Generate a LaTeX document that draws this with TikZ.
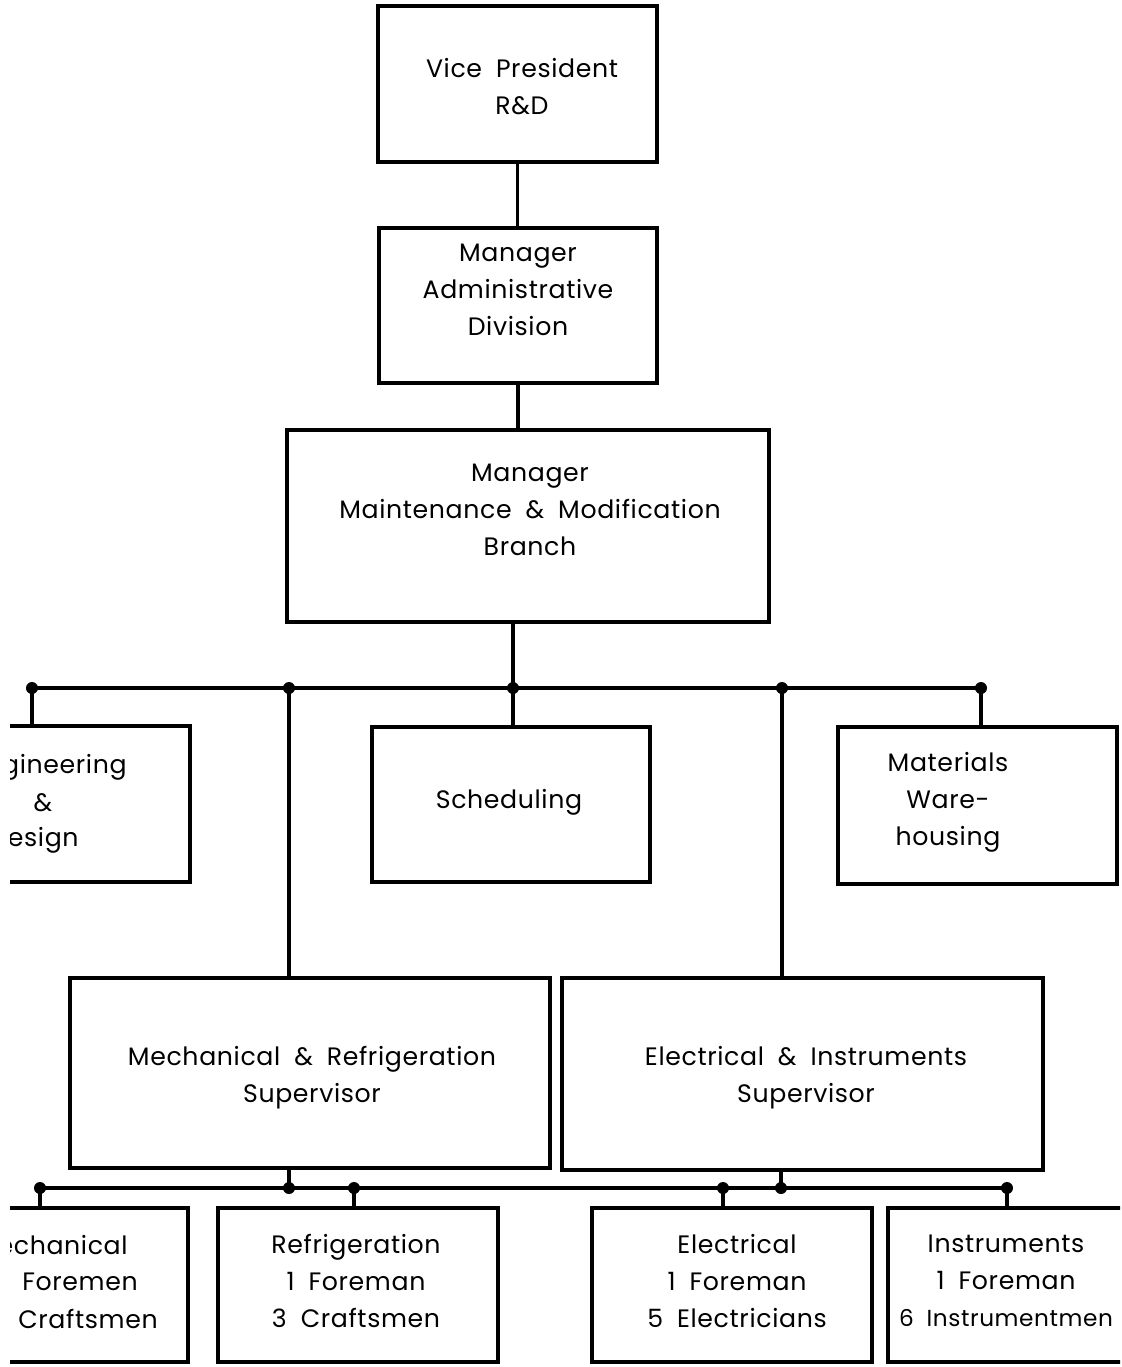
\documentclass[tikz,border=0pt]{standalone}
\usepackage{fontspec}
\setmainfont{Poppins}[WordSpace=1.9,LetterSpace=2.5]
\begin{document}
\begin{tikzpicture}[x=0.5pt,y=-0.5pt,
  box/.style={draw, line width=2.1pt, inner sep=0pt},
  conn/.style={line width=1.7pt},
  txt/.style={align=center, font=\fontsize{12.6}{18.5}\selectfont, inner sep=0pt},
  jdot/.style={circle, fill, inner sep=0pt, minimum size=6pt}]
\useasboundingbox (0,0) rectangle (1122,1367);
\begin{scope}
\clip (10,0) rectangle (1120,1367);
% boxes
\node[box, minimum width=139.5pt, minimum height=78pt] (vp) at (517.5,84) {};
\node[box, minimum width=139pt, minimum height=77.5pt] (adm) at (518,305.5) {};
\node[box, minimum width=241pt, minimum height=96pt] (mm) at (528,526) {};
\node[box, minimum width=146pt, minimum height=78pt] (eng) at (44,804) {};
\node[box, minimum width=139pt, minimum height=77.5pt] (sched) at (511,804.5) {};
\node[box, minimum width=139.5pt, minimum height=78.5pt] (mat) at (977.5,805.5) {};
\node[box, minimum width=240pt, minimum height=95pt] (msup) at (310,1073) {};
\node[box, minimum width=240.5pt, minimum height=96pt] (esup) at (802.5,1074) {};
\node[box, minimum width=124pt, minimum height=77pt] (mf) at (64,1285) {};
\node[box, minimum width=140pt, minimum height=77pt] (rf) at (358,1285) {};
\node[box, minimum width=140pt, minimum height=77pt] (ef) at (732,1285) {};
\node[box, minimum width=141pt, minimum height=77pt] (inf) at (1029,1285) {};
% texts
\node[txt] (tvp) at (522,87) {Vice President\\R\&D};
\node[txt] (tadm) at (518,290) {Manager\\Administrative\\Division};
\node[txt] (tmm) at (530,510) {Manager\\Maintenance \& Modification\\Branch};
\node[txt, anchor=east] (teng1) at (127,767) {Engineering};
\node[txt] (teng2) at (43,803) {\&};
\node[txt, anchor=east] (teng3) at (79,840) {Design};
\node[txt] (tsched) at (509,802) {Scheduling};
\node[txt] (tmat) at (948,802) {Materials\\Ware-\\housing};
\node[txt] (tmsup) at (312,1078) {Mechanical \& Refrigeration\\Supervisor};
\node[txt] (tesup) at (806,1078) {Electrical \& Instruments\\Supervisor};
\node[txt, anchor=east] (tmf1) at (128,1245) {Mechanical};
\node[txt, anchor=west] (tmf2) at (22,1282) {Foremen};
\node[txt, anchor=west] (tmf3) at (18,1319) {Craftsmen};
\node[txt] (trf) at (356,1281) {Refrigeration\\1 Foreman\\3 Craftsmen};
\node[txt] (tef) at (737,1281) {Electrical\\1 Foreman\\5 Electricians};
\node[txt] (tinf) at (1006,1281) {Instruments\\1 Foreman\\{\fontsize{11.6}{18.5}\selectfont 6 Instrumentmen}};
% upper connectors
\draw[conn] (vp.south) -- (vp.south |- adm.north);
\coordinate (b1) at (32,688);
\coordinate (b2) at (289,688);
\coordinate (b3) at (513,688);
\coordinate (b4) at (782,688);
\coordinate (b5) at (981,688);
\draw[conn] (adm.south) -- (adm.south |- mm.north);
\draw[conn] (b1) -- (b5);
\draw[conn] (b3 |- mm.south) -- (b3);
\draw[conn] (b1) -- (b1 |- eng.north);
\draw[conn] (b3) -- (b3 |- sched.north);
\draw[conn] (b5) -- (b5 |- mat.north);
\draw[conn] (b2) -- (b2 |- msup.north);
\draw[conn] (b4) -- (b4 |- esup.north);
\foreach \c in {b1,b2,b3,b4,b5} \node[jdot] (d\c) at (\c) {};
% lower connectors
\coordinate (c1) at (40,1188);
\coordinate (c2) at (289,1188);
\coordinate (c3) at (354,1188);
\coordinate (c4) at (723,1188);
\coordinate (c5) at (781,1188);
\coordinate (c6) at (1007,1188);
\draw[conn] (c1) -- (c6);
\draw[conn] (c2 |- msup.south) -- (c2);
\draw[conn] (c5 |- esup.south) -- (c5);
\draw[conn] (c1) -- (c1 |- mf.north);
\draw[conn] (c3) -- (c3 |- rf.north);
\draw[conn] (c4) -- (c4 |- ef.north);
\draw[conn] (c6) -- (c6 |- inf.north);
\foreach \c in {c1,c2,c3,c4,c5,c6} \node[jdot] (d\c) at (\c) {};
\end{scope}
\end{tikzpicture}
\end{document}
